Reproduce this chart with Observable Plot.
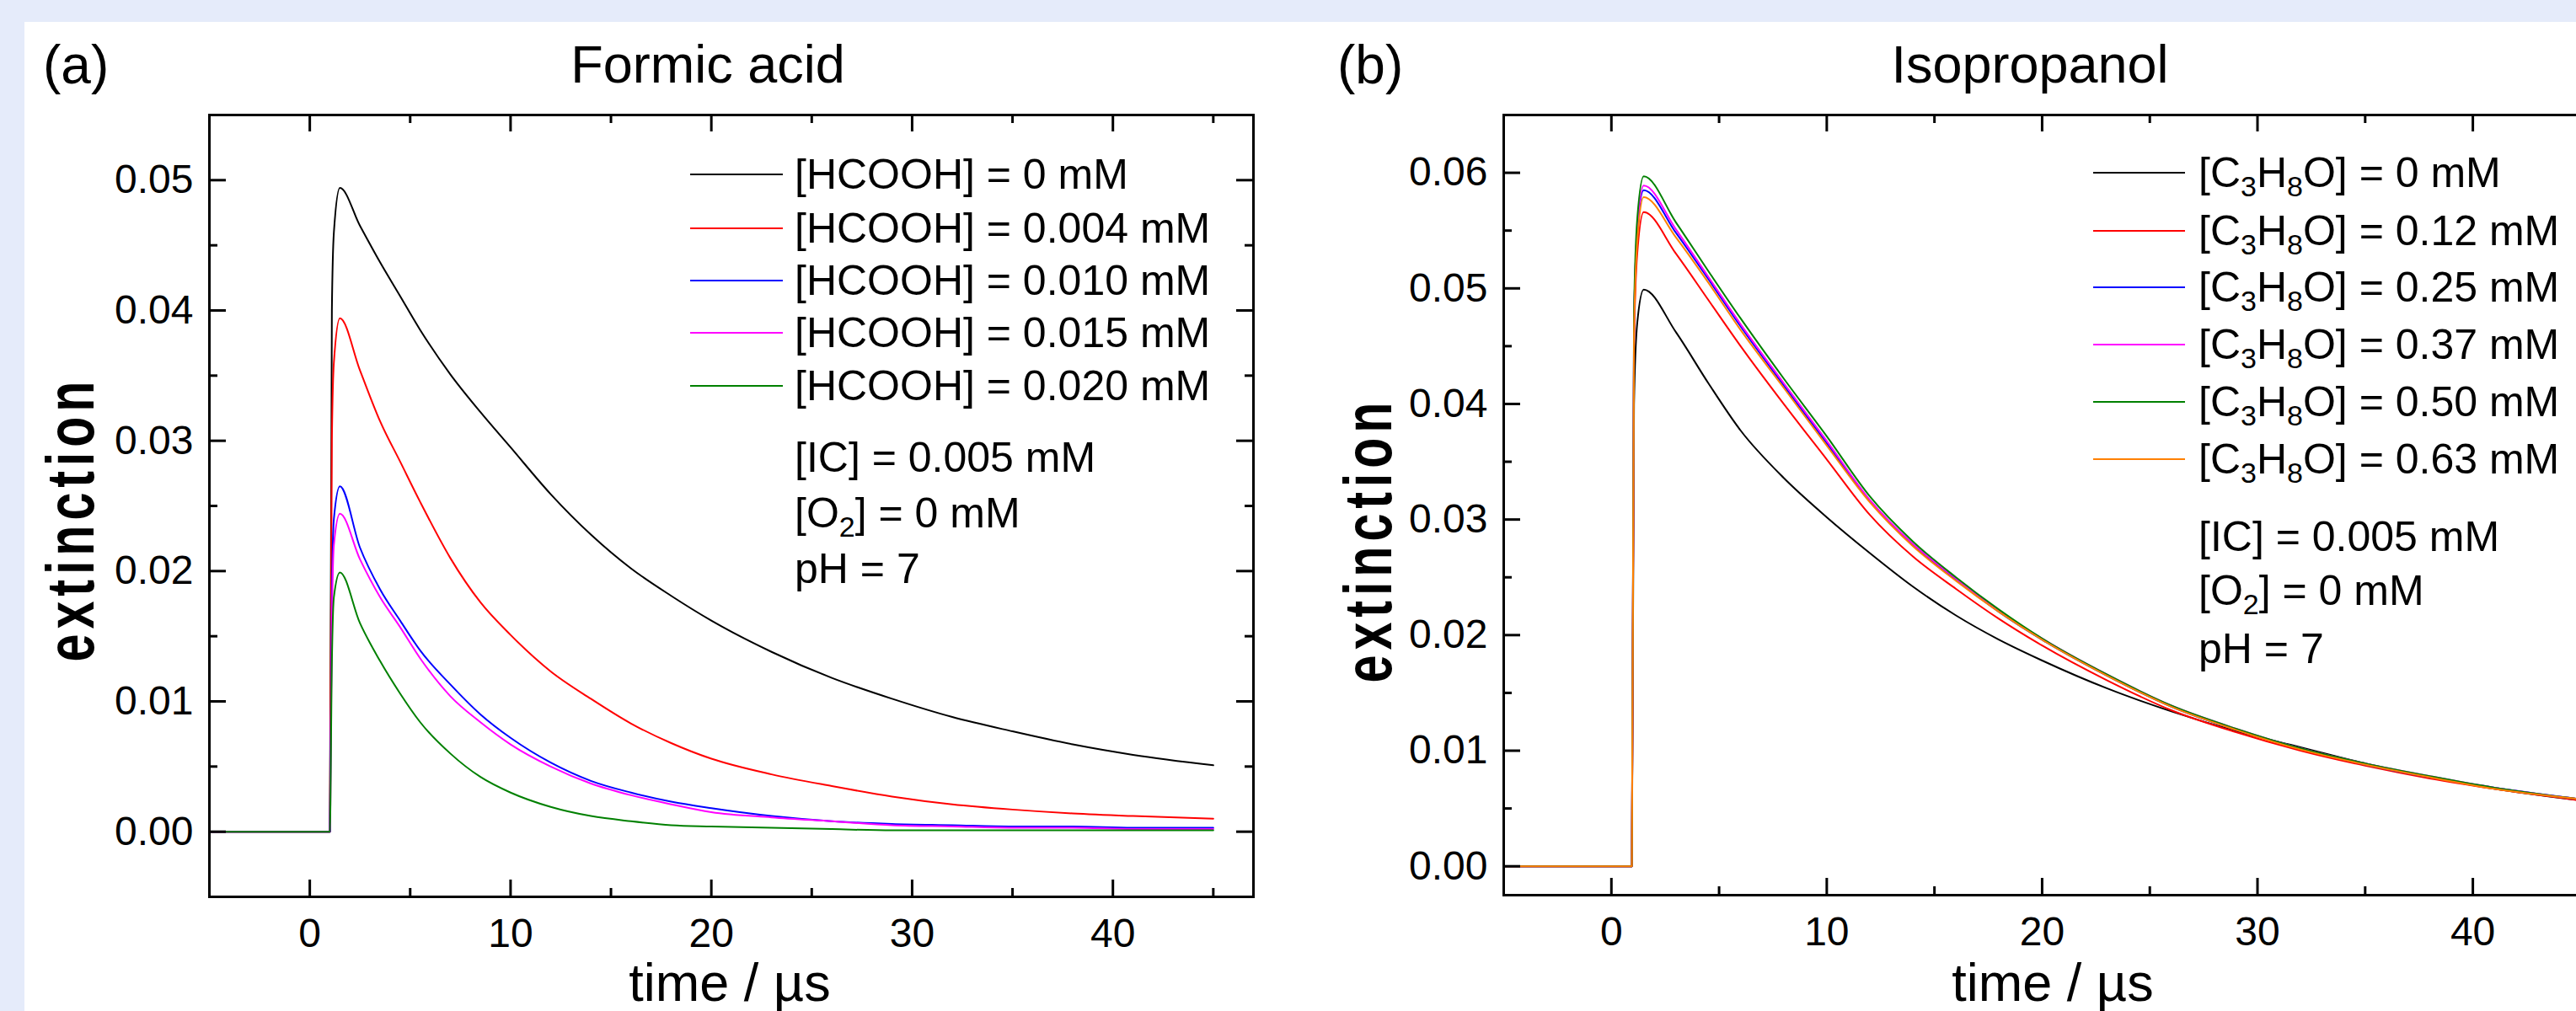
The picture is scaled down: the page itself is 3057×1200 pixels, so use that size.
<!DOCTYPE html>
<html><head><meta charset="utf-8">
<script src="https://cdn.jsdelivr.net/npm/d3@7"></script>
<script src="https://cdn.jsdelivr.net/npm/@observablehq/plot@0.6"></script>
<style>
html,body{margin:0;padding:0;overflow:hidden;background:#e5ebfa;width:3057px;height:1200px;}
#sheet{position:absolute;left:29px;top:26px;width:3100px;height:1200px;background:#fff;}
.abs{position:absolute;font-family:"Liberation Sans",Arial,sans-serif;color:#000;white-space:nowrap;}
.row{position:absolute;height:60px;line-height:60px;font-size:50px;font-family:"Liberation Sans",Arial,sans-serif;white-space:nowrap;}
.sw{position:absolute;top:29px;height:0;border-top:2px solid #000;}
.txt{position:absolute;top:0;}
sub{font-size:34px;vertical-align:-11px;line-height:0;}
.ylab{position:absolute;font-family:"Liberation Sans",Arial,sans-serif;font-weight:bold;font-size:80px;letter-spacing:8px;transform:translate(-50%,-50%) rotate(-90deg) scaleX(0.74);white-space:nowrap;line-height:1;}
</style></head><body>
<div id="sheet"></div>
<div id="root"></div>
<script>
// ---------- data: panel (a) Formic acid ----------
const tA = [-5, -3, -1, 0.5, 1.0, 1.1, 1.2, 1.5, 2.5, 3.5, 4.5, 5.5, 7, 8.5, 10, 12, 14, 16, 18, 20, 23, 26, 29, 32, 35, 38, 41, 45];
const hcooh0   = [0,0,0,0,0, 0.040, 0.046, 0.0494, 0.0465, 0.0437, 0.0411, 0.0385, 0.0351, 0.0322, 0.0295, 0.0259, 0.0228, 0.0202, 0.0181, 0.0162, 0.0138, 0.0118, 0.0102, 0.0088, 0.0077, 0.0067, 0.0059, 0.0051];
const hcooh004 = [0,0,0,0,0, 0.030, 0.036, 0.0394, 0.0354, 0.0315, 0.0284, 0.0253, 0.0210, 0.0176, 0.0151, 0.0123, 0.0102, 0.0083, 0.0068, 0.0056, 0.0044, 0.0035, 0.0027, 0.0021, 0.0017, 0.0014, 0.0012, 0.0010];
const hcooh010 = [0,0,0,0,0, 0.018, 0.024, 0.0265, 0.0218, 0.0186, 0.0162, 0.0139, 0.0113, 0.0090, 0.0072, 0.0053, 0.0039, 0.0030, 0.0023, 0.0018, 0.0012, 0.0008, 0.0006, 0.0005, 0.0004, 0.0004, 0.0003, 0.0003];
const hcooh015 = [0,0,0,0,0, 0.016, 0.022, 0.0244, 0.0209, 0.0180, 0.0157, 0.0133, 0.0104, 0.0084, 0.0067, 0.0050, 0.0037, 0.0028, 0.0021, 0.0015, 0.0011, 0.0008, 0.0005, 0.0004, 0.0003, 0.0003, 0.0002, 0.0002];
const hcooh020 = [0,0,0,0,0, 0.013, 0.018, 0.0199, 0.0160, 0.0131, 0.0106, 0.0084, 0.0060, 0.0042, 0.0030, 0.0019, 0.0012, 0.0008, 0.0005, 0.0004, 0.0003, 0.0002, 0.0001, 0.0001, 0.0001, 0.0001, 0.0001, 0.0001];
const seriesA = ["[HCOOH] = 0 mM", "[HCOOH] = 0.004 mM", "[HCOOH] = 0.010 mM", "[HCOOH] = 0.015 mM", "[HCOOH] = 0.020 mM"];
const valuesA = [hcooh0, hcooh004, hcooh010, hcooh015, hcooh020];
const colorsA = ["#000000", "#ff0000", "#0000ff", "#ff00ff", "#008000"];

// ---------- data: panel (b) Isopropanol ----------
const tB = [-5, -3, -1, 0.5, 0.95, 1.05, 1.2, 1.5, 3, 4.5, 6, 8, 10, 12, 14, 16, 18, 20, 23, 26, 29, 32, 35, 38, 41, 45];
const c3h8o0   = [0,0,0,0,0, 0.040, 0.047, 0.0499, 0.0462, 0.0418, 0.0377, 0.0336, 0.0302, 0.0271, 0.0242, 0.0217, 0.0196, 0.0178, 0.0154, 0.0134, 0.0117, 0.0103, 0.0089, 0.0077, 0.0067, 0.0057];
const c3h8o012 = [0,0,0,0,0, 0.045, 0.053, 0.0566, 0.0530, 0.0490, 0.0450, 0.0400, 0.0352, 0.0304, 0.0268, 0.0240, 0.0214, 0.0191, 0.0161, 0.0135, 0.0116, 0.0100, 0.0087, 0.0076, 0.0067, 0.0057];
const c3h8o025 = [0,0,0,0,0, 0.047, 0.055, 0.0585, 0.0548, 0.0508, 0.0467, 0.0416, 0.0366, 0.0316, 0.0278, 0.0248, 0.0220, 0.0196, 0.0165, 0.0138, 0.0118, 0.0102, 0.0088, 0.0077, 0.0068, 0.0058];
const c3h8o037 = [0,0,0,0,0, 0.047, 0.055, 0.0589, 0.0551, 0.0510, 0.0469, 0.0418, 0.0368, 0.0317, 0.0279, 0.0249, 0.0221, 0.0197, 0.0166, 0.0139, 0.0119, 0.0102, 0.0089, 0.0078, 0.0068, 0.0058];
const c3h8o050 = [0,0,0,0,0, 0.048, 0.056, 0.0597, 0.0557, 0.0515, 0.0474, 0.0422, 0.0372, 0.0320, 0.0281, 0.0250, 0.0222, 0.0197, 0.0166, 0.0139, 0.0119, 0.0102, 0.0089, 0.0078, 0.0068, 0.0058];
const c3h8o063 = [0,0,0,0,0, 0.046, 0.054, 0.0579, 0.0544, 0.0505, 0.0464, 0.0414, 0.0364, 0.0315, 0.0277, 0.0247, 0.0220, 0.0196, 0.0165, 0.0138, 0.0118, 0.0101, 0.0088, 0.0077, 0.0067, 0.0058];
const seriesB = ["0 mM", "0.12 mM", "0.25 mM", "0.37 mM", "0.50 mM", "0.63 mM"];
const valuesB = [c3h8o0, c3h8o012, c3h8o025, c3h8o037, c3h8o050, c3h8o063];
const colorsB = ["#000000", "#ff0000", "#0000ff", "#ff00ff", "#008000", "#ff8000"];

// ---------- ticks ----------
const xMajor = [0, 10, 20, 30, 40];
const xMinor = [-5, 5, 15, 25, 35, 45];
const yMajorA = [0.00, 0.01, 0.02, 0.03, 0.04, 0.05];
const yMinorA = [0.005, 0.015, 0.025, 0.035, 0.045];
const yMajorB = [0.00, 0.01, 0.02, 0.03, 0.04, 0.05, 0.06];
const yMinorB = [0.005, 0.015, 0.025, 0.035, 0.045, 0.055];

const conditions = ["[IC] = 0.005 mM", "[O<sub>2</sub>] = 0 mM", "pH = 7"];

const FONT = "Liberation Sans, Arial, sans-serif";

function panel(cfg) {
  const fw = cfg.width - cfg.ml - cfg.mr;
  const fh = cfg.height - cfg.mt - cfg.mb;
  const rows = [];
  cfg.series.forEach((s, i) => cfg.values[i].forEach((v, j) => rows.push({s, t: cfg.t[j], v})));
  const M = 20, m = 10;
  return Plot.plot({
    width: cfg.width, height: cfg.height,
    marginLeft: cfg.ml, marginRight: cfg.mr, marginTop: cfg.mt, marginBottom: cfg.mb,
    style: {background: "transparent", fontFamily: FONT, overflow: "visible", color: "#000"},
    x: {domain: cfg.xDomain},
    y: {domain: cfg.yDomain},
    color: {domain: cfg.series, range: cfg.colors},
    marks: [
      Plot.line(rows, {x: "t", y: "v", z: "s", stroke: "s", strokeWidth: 2, curve: "monotone-x", clip: true}),
      Plot.frame({stroke: "#000", strokeWidth: 3}),
      Plot.tickX(xMajor, {x: d => d, insetTop: fh - M, strokeWidth: 3}),
      Plot.tickX(xMajor, {x: d => d, insetBottom: fh - M, strokeWidth: 3}),
      Plot.tickX(xMinor, {x: d => d, insetTop: fh - m, strokeWidth: 3}),
      Plot.tickX(xMinor, {x: d => d, insetBottom: fh - m, strokeWidth: 3}),
      Plot.tickY(cfg.yMajor, {y: d => d, insetRight: fw - M, strokeWidth: 3}),
      Plot.tickY(cfg.yMajor, {y: d => d, insetLeft: fw - M, strokeWidth: 3}),
      Plot.tickY(cfg.yMinor, {y: d => d, insetRight: fw - m, strokeWidth: 3}),
      Plot.tickY(cfg.yMinor, {y: d => d, insetLeft: fw - m, strokeWidth: 3}),
      Plot.axisX(xMajor, {tickSize: 0, tickPadding: 25, fontSize: 48, label: null}),
      Plot.axisY(cfg.yMajor, {tickSize: 0, tickPadding: 19, fontSize: 48, label: null, tickFormat: d => d.toFixed(2)})
    ]
  });
}

function place(node, left, top) {
  node.style.position = "absolute";
  node.style.left = left + "px";
  node.style.top = top + "px";
  document.getElementById("root").appendChild(node);
  return node;
}
function text(html, left, baseline, size, extra) {
  const d = document.createElement("div");
  d.className = "abs";
  d.innerHTML = html;
  d.style.fontSize = size + "px";
  d.style.lineHeight = "1";
  d.style.top = (baseline - size * 0.905 - (size * 1 - size * 1.117) / 2) + "px";
  d.style.left = left + "px";
  if (extra) Object.assign(d.style, extra);
  document.getElementById("root").appendChild(d);
  return d;
}
function centered(html, cx, baseline, size) {
  return text(html, cx, baseline, size, {transform: "translateX(-50%)"});
}
function legend(series, colors, lineX0, lineX1, textX, rowsY, labelFn) {
  series.forEach((s, i) => {
    const r = document.createElement("div");
    r.className = "row";
    r.style.left = "0px";
    r.style.top = (rowsY[i] - 30) + "px";
    const sw = document.createElement("div");
    sw.className = "sw";
    sw.style.left = lineX0 + "px";
    sw.style.width = (lineX1 - lineX0) + "px";
    sw.style.borderTopColor = colors[i];
    r.appendChild(sw);
    const t = document.createElement("div");
    t.className = "txt";
    t.style.left = textX + "px";
    t.innerHTML = labelFn(s);
    r.appendChild(t);
    document.getElementById("root").appendChild(r);
  });
}
function notes(textX, rowsY) {
  conditions.forEach((c, i) => {
    const r = document.createElement("div");
    r.className = "row";
    r.style.left = textX + "px";
    r.style.top = (rowsY[i] - 30) + "px";
    r.innerHTML = c;
    document.getElementById("root").appendChild(r);
  });
}
function ylab(cx, cy) {
  const d = document.createElement("div");
  d.className = "ylab";
  d.textContent = "extinction";
  d.style.left = cx + "px";
  d.style.top = cy + "px";
  document.getElementById("root").appendChild(d);
}

// panel (a): frame x 248..1487, y 136..1064
place(panel({
  width: 1530, height: 1200, ml: 248, mr: 43, mt: 136, mb: 136,
  xDomain: [-5, 47], yDomain: [-0.005, 0.055],
  t: tA, series: seriesA, values: valuesA, colors: colorsA,
  yMajor: yMajorA, yMinor: yMinorA
}), 0, 0);

// panel (b): frame x 1784..3113 (cut by the window), y 136..1062
place(panel({
  width: 1623, height: 1200, ml: 254, mr: 40, mt: 136, mb: 138,
  xDomain: [-5, 47], yDomain: [-0.0025, 0.065],
  t: tB, series: seriesB, values: valuesB, colors: colorsB,
  yMajor: yMajorB, yMinor: yMinorB
}), 1530, 0);

// titles and labels
text("(a)", 51, 99, 64);
centered("Formic acid", 840, 98, 63);
text("(b)", 1587, 99, 64);
centered("Isopropanol", 2409, 98, 63);
centered("time / µs", 866, 1188, 63);
centered("time / µs", 2436, 1188, 63);
ylab(84, 616);
ylab(1624, 641);

// legends
legend(seriesA, colorsA, 819, 929, 943, [207, 271, 333, 395, 458], s => s);
notes(943, [543, 609, 675]);
legend(seriesB, colorsB, 2484, 2593, 2609, [205, 274, 341, 409, 477, 545],
  s => "[C<sub>3</sub>H<sub>8</sub>O] = " + s);
notes(2609, [637, 701, 770]);
</script>
</body></html>
